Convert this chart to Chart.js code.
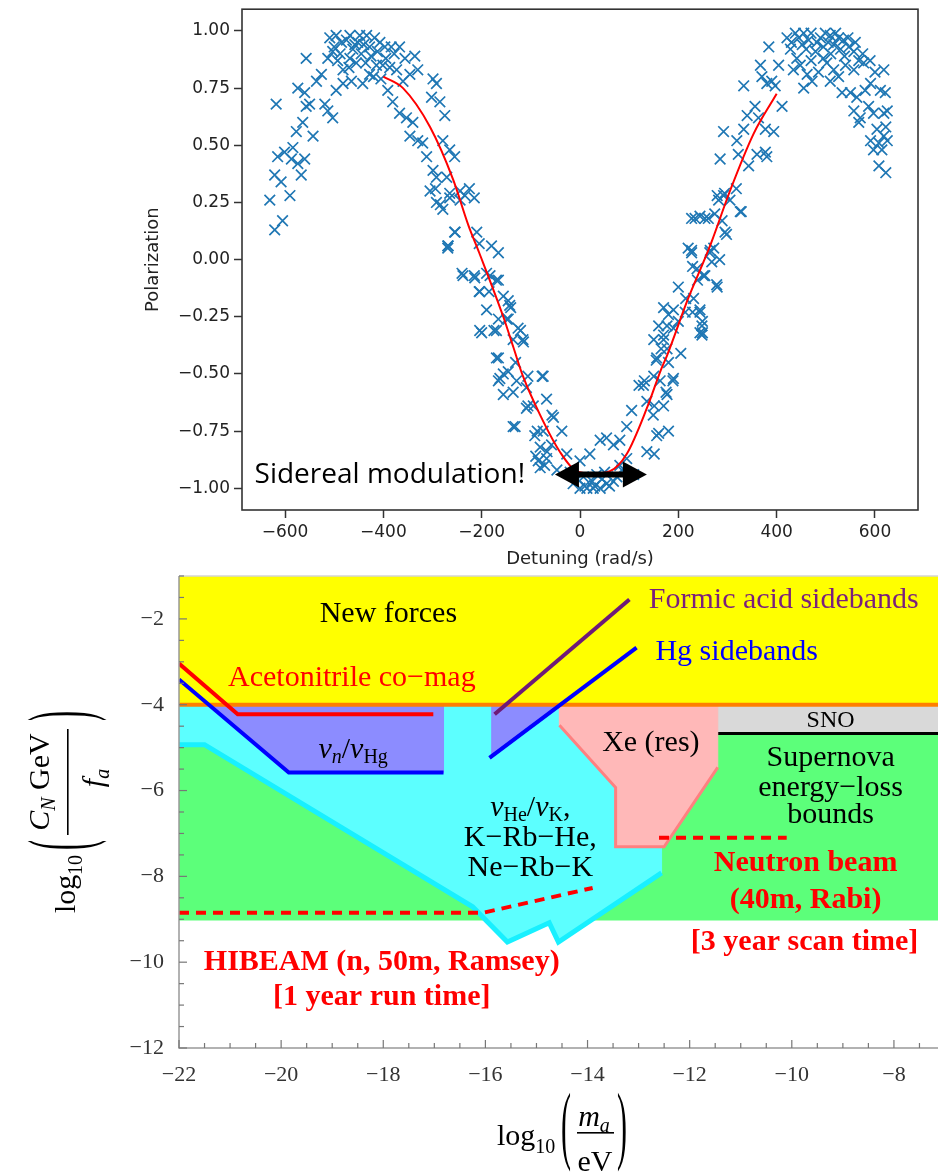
<!DOCTYPE html>
<html>
<head>
<meta charset="utf-8">
<script src="https://cdn.jsdelivr.net/npm/chart.js@4.4.1/dist/chart.umd.min.js"></script>
<style>
  html, body { margin: 0; padding: 0; background: #fff; }
  body { width: 938px; height: 1172px; overflow: hidden; position: relative; }
  #topWrap { position: absolute; left: 0; top: 0; width: 938px; height: 570px; }
  #bottomWrap { position: absolute; left: 0; top: 570px; width: 938px; height: 602px; overflow: hidden; }
</style>
</head>
<body>
<div id="topWrap"><canvas id="polChart" width="938" height="570"></canvas></div>
<div id="bottomWrap"><canvas id="axionChart" width="960" height="602"></canvas></div>
<script>
// ---- top panel : polarization vs detuning ----
var polTicks = [-1, -0.75, -0.5, -0.25, 0, 0.25, 0.5, 0.75, 1];
var detuningTicks = [-600, -400, -200, 0, 200, 400, 600];

// measured points [detuning, polarization]
var scanPoints = [
  [-631,0.26],[-618,0.68],[-621,0.37],[-621,0.13],[-605,0.17],[-608,0.34],[-590,0.28],[-615,0.45],
  [-601,0.47],[-587,0.44],[-584,0.49],[-574,0.42],[-567,0.37],[-560,0.44],[-577,0.56],[-564,0.60],
  [-557,0.67],[-574,0.75],[-560,0.73],[-557,0.88],[-543,0.54],[-550,0.68],[-536,0.78],[-526,0.81],
  [-519,0.68],[-513,0.65],[-503,0.62],[-513,0.88],[-503,0.91],[-509,0.97],[-496,0.98],[-485,0.95],
  [-493,0.87],[-482,0.83],[-496,0.74],[-482,0.77],[-465,0.78],[-468,0.88],[-458,0.94],[-468,0.98],
  [-448,0.98],[-434,0.98],[-445,0.90],[-428,0.93],[-418,0.97],[-407,0.95],[-397,0.93],[-384,0.93],
  [-442,0.77],[-428,0.81],[-414,0.85],[-401,0.85],[-387,0.84],[-373,0.83],[-367,0.93],[-356,0.88],
  [-336,0.89],[-360,0.78],[-346,0.81],[-330,0.83],[-391,0.74],[-381,0.69],[-367,0.64],[-353,0.62],
  [-340,0.60],[-346,0.54],[-330,0.52],[-320,0.51],[-312,0.45],[-299,0.39],[-292,0.36],[-305,0.30],
  [-292,0.25],[-279,0.22],[-299,0.79],[-292,0.77],[-302,0.71],[-285,0.69],[-275,0.63],[-279,0.52],
  [-265,0.48],[-255,0.45],[-271,0.36],[-265,0.29],[-244,0.30],[-234,0.28],[-269,0.05],[-255,0.12],
  [-294,0.31],[-284,0.24],[-265,0.27],[-244,0.26],[-225,0.31],[-215,0.27],[-254,0.12],[-269,0.06],
  [-210,0.12],[-205,0.07],[-180,0.06],[-166,0.03],[-240,-0.06],[-215,-0.07],[-190,-0.06],[-170,-0.09],
  [-205,-0.14],[-185,-0.14],[-190,-0.22],[-146,-0.18],[-141,-0.21],[-166,-0.26],[-200,-0.32],[-175,-0.31],
  [-146,-0.26],[-121,-0.31],[-116,-0.35],[-136,-0.35],[-166,-0.43],[-156,-0.50],[-131,-0.45],[-106,-0.51],
  [-77,-0.51],[-268,0.06],[-238,-0.07],[-214,-0.08],[-183,-0.07],[-166,-0.09],[-204,-0.14],[-156,-0.16],
  [-143,-0.20],[-149,-0.26],[-204,-0.31],[-170,-0.31],[-126,-0.30],[-115,-0.36],[-170,-0.43],[-163,-0.52],
  [-146,-0.49],[-129,-0.53],[-156,-0.59],[-109,-0.56],[-75,-0.51],[-95,-0.64],[-68,-0.61],[-132,-0.73],
  [-109,-0.65],[-92,-0.77],[-75,-0.75],[-54,-0.69],[-81,-0.82],[-58,-0.81],[-37,-0.75],[-68,-0.87],
  [-27,-0.85],[-81,-0.91],[-47,-0.92],[-14,-0.98],[0,-1.00],[14,-1.00],[27,-1.00],[41,-1.00],
  [54,-0.98],[68,-0.97],[7,-0.95],[34,-0.94],[0,-0.88],[20,-0.85],[41,-0.79],[54,-0.78],
  [68,-0.81],[81,-0.79],[95,-0.87],[81,-0.90],[109,-0.94],[105,-0.66],[129,-0.55],[95,-0.73],
  [136,-0.62],[136,-0.84],[156,-0.77],[149,-0.68],[163,-0.53],[177,-0.59],[170,-0.64],[190,-0.52],
  [156,-0.43],[177,-0.39],[170,-0.35],[190,-0.30],[177,-0.29],[200,-0.27],[190,-0.22],[214,-0.23],
  [231,-0.17],[244,-0.23],[248,-0.29],[244,-0.32],[248,-0.33],[227,0.03],[238,-0.04],[251,-0.07],
  [272,0.05],[278,-0.11],[268,-0.01],[-20,-0.93],[10,-0.99],[25,-0.97],[45,-0.96],[60,-0.99],
  [75,-0.95],[-5,-0.96],[30,-0.99],[50,-0.93],[85,-0.92],[-90,-0.86],[-85,-0.88],[-72,-0.90],
  [-166,-0.53],[-136,-0.58],[-136,-0.73],[-106,-0.64],[-87,-0.75],[-67,-0.84],[-57,-0.68],[120,-0.55],
  [151,-0.64],[180,-0.75],[175,-0.58],[189,-0.53],[151,-0.85],[160,-0.76],
  [220,0.05],[229,-0.03],[239,-0.09],[254,-0.07],[234,0.18],[254,0.18],[274,0.20],[279,0.28],
  [294,0.29],[318,0.31],[298,0.11],[289,0.17],[328,0.21],[279,-0.12],[264,0.03],[284,0.00],
  [200,-0.12],[215,-0.17],[229,-0.23],[244,-0.22],[249,-0.27],[249,-0.32],[170,-0.21],[180,-0.24],
  [160,-0.29],[150,-0.35],[170,-0.33],[165,-0.39],[155,-0.44],[180,-0.45],[205,-0.41],[131,-0.53],
  [150,-0.51],[227,0.18],[244,0.19],[261,0.18],[227,0.04],[265,0.04],[285,0.44],[282,0.26],
  [292,0.28],[305,0.26],[326,0.21],[295,0.12],[292,0.56],[319,0.52],[333,0.57],[322,0.46],
  [343,0.41],[333,0.76],[340,0.63],[356,0.67],[363,0.62],[370,0.80],[380,0.77],[390,0.78],
  [397,0.76],[367,0.85],[384,0.93],[404,0.85],[411,0.67],[377,0.57],[394,0.56],[377,0.47],
  [380,0.45],[360,0.46],[421,0.97],[428,0.92],[438,0.99],[441,0.88],[452,0.94],[455,0.99],
  [465,0.96],[479,0.91],[489,0.97],[499,0.99],[509,0.98],[516,0.94],[526,0.97],[536,0.96],
  [547,0.93],[557,0.91],[434,0.83],[448,0.85],[462,0.81],[455,0.75],[472,0.78],[485,0.82],
  [502,0.86],[516,0.83],[526,0.80],[509,0.78],[540,0.85],[557,0.83],[567,0.87],[577,0.86],
  [533,0.73],[550,0.73],[563,0.71],[580,0.74],[591,0.77],[618,0.83],[611,0.74],[621,0.73],
  [557,0.65],[570,0.62],[587,0.67],[597,0.64],[618,0.64],[625,0.65],[567,0.60],[604,0.57],
  [622,0.58],[591,0.52],[608,0.51],[618,0.54],[597,0.48],[614,0.48],[608,0.41],[622,0.38],[625,0.52],
  [-500,0.93],[-488,0.90],[-475,0.96],[-462,0.92],[-452,0.95],[-440,0.94],[-425,0.89],[-412,0.91],
  [-395,0.88],[-378,0.90],[-470,0.84],[-455,0.86],[-436,0.86],[-420,0.80],[-405,0.79],
  [430,0.95],[445,0.97],[460,0.92],[470,0.99],[482,0.95],[495,0.93],[505,0.95],[520,0.99],
  [530,0.92],[545,0.97],[560,0.95],[575,0.90],[590,0.87],[600,0.82],[470,0.87],[495,0.88],
  [510,0.90],[538,0.89]
];

// fitted curve
var fitCurve = [
  [-400,0.80],[-360,0.75],[-305,0.58],[-258,0.35],[-227,0.15],[-205,0.03],[-156,-0.25],[-136,-0.38],
  [-116,-0.51],[-81,-0.68],[-41,-0.84],[-7,-0.925],[27,-0.935],[61,-0.925],[95,-0.85],[136,-0.65],
  [165,-0.48],[177,-0.42],[220,-0.17],[255,0.01],[268,0.08],[305,0.30],[353,0.55],[400,0.725]
];

var modulationArrow = [[-51, -0.94], [136, -0.94]];
var modulationNote = { text: 'Sidereal modulation!', x: -662, y: -0.976 };

function signed(v, digits) {
  var s = Math.abs(v).toFixed(digits);
  return v < 0 ? '\u2212' + s : s;
}
function toXY(list) {
  return list.map(function (p) { return { x: p[0], y: p[1] }; });
}
// keep the plot box where the figure has it: no extra room for end labels
function noEndPadding(s) {
  s.paddingTop = 0; s.paddingBottom = 0; s.paddingLeft = 0; s.paddingRight = 0;
}

var polFrame = {
  id: 'polFrame',
  afterDatasetsDraw: function (chart) {
    var ctx = chart.ctx, a = chart.chartArea;
    var xs = chart.scales.x, ys = chart.scales.y;
    ctx.save();
    ctx.strokeStyle = '#333';
    ctx.lineWidth = 1.6;
    ctx.strokeRect(a.left, a.top, a.right - a.left, a.bottom - a.top);

    // double arrow
    var x0 = xs.getPixelForValue(modulationArrow[0][0]);
    var x1 = xs.getPixelForValue(modulationArrow[1][0]);
    var yy = ys.getPixelForValue(modulationArrow[0][1]);
    ctx.strokeStyle = '#000';
    ctx.fillStyle = '#000';
    ctx.lineWidth = 6;
    ctx.beginPath();
    ctx.moveTo(x0 + 20, yy);
    ctx.lineTo(x1 - 20, yy);
    ctx.stroke();
    ctx.beginPath();
    ctx.moveTo(x0, yy); ctx.lineTo(x0 + 24, yy - 13); ctx.lineTo(x0 + 24, yy + 13); ctx.closePath();
    ctx.fill();
    ctx.beginPath();
    ctx.moveTo(x1, yy); ctx.lineTo(x1 - 24, yy - 13); ctx.lineTo(x1 - 24, yy + 13); ctx.closePath();
    ctx.fill();

    ctx.font = '28px "Open Sans"';
    ctx.textBaseline = 'alphabetic';
    ctx.textAlign = 'left';
    ctx.fillText(modulationNote.text, xs.getPixelForValue(modulationNote.x), ys.getPixelForValue(modulationNote.y), 285);
    ctx.restore();
  }
};

new Chart(document.getElementById('polChart').getContext('2d'), {
  type: 'scatter',
  data: {
    datasets: [
      {
        data: toXY(fitCurve),
        showLine: true,
        borderColor: '#ff0000',
        borderWidth: 2,
        pointRadius: 0,
        cubicInterpolationMode: 'monotone',
        order: 0
      },
      {
        data: toXY(scanPoints),
        pointStyle: 'crossRot',
        pointRadius: 7.5,
        borderColor: '#1f77b4',
        backgroundColor: '#1f77b4',
        borderWidth: 1.7,
        order: 1
      }
    ]
  },
  options: {
    responsive: false,
    animation: false,
    events: [],
    layout: { padding: { left: 0, right: 20, top: 5, bottom: 0 } },
    plugins: { legend: { display: false }, tooltip: { enabled: false } },
    scales: {
      x: {
        type: 'linear', min: -687.5, max: 687.5,
        afterBuildTicks: function (s) { s.ticks = detuningTicks.map(function (v) { return { value: v }; }); },
        afterFit: function (s) { s.height = 60; noEndPadding(s); },
        grid: { display: true, drawOnChartArea: false, drawTicks: true, tickLength: 8, tickColor: '#333', tickWidth: 1.5 },
        border: { display: false },
        ticks: { font: { family: 'DejaVu Sans', size: 17 }, color: '#222', padding: 4, maxRotation: 0, autoSkip: false,
                 callback: function (v) { return signed(v, 0); } },
        title: { display: true, text: 'Detuning (rad/s)', font: { family: 'DejaVu Sans', size: 18 }, color: '#222',
                 padding: { top: 0, bottom: 0 } }
      },
      y: {
        type: 'linear', min: -1.095, max: 1.095,
        afterBuildTicks: function (s) { s.ticks = polTicks.map(function (v) { return { value: v }; }); },
        afterFit: function (s) { s.width = 242; noEndPadding(s); },
        grid: { display: true, drawOnChartArea: false, drawTicks: true, tickLength: 8, tickColor: '#333', tickWidth: 1.5 },
        border: { display: false },
        ticks: { font: { family: 'DejaVu Sans', size: 17 }, color: '#222', padding: 4, autoSkip: false,
                 callback: function (v) { return signed(v, 2); } },
        title: { display: true, text: 'Polarization', font: { family: 'DejaVu Sans', size: 18 }, color: '#222',
                 padding: { top: 143, bottom: 0 } }
      }
    }
  },
  plugins: [polFrame]
});

// ---- bottom panel : axion coupling reach ----
var massTicks = [-22, -20, -18, -16, -14, -12, -10, -8];
var couplingTicks = [-12, -10, -8, -6, -4, -2];

// regions [log10 m_a, log10 coupling]
var newForcesBand = [[-22,-4],[-22,-1],[-7,-1],[-7,-4]];
var supernovaBand = [[-22,-9.03],[-22,-4],[-7,-4],[-7,-9.03]];
var snoBand = [[-11.45,-4.67],[-11.45,-4],[-7,-4],[-7,-4.67]];
var comagRegion = [[-22,-4],[-22,-4.93],[-21.5,-4.93],[-16.25,-8.71],[-15.57,-9.53],[-14.75,-9.08],
                   [-14.57,-9.53],[-12.55,-7.92],[-12.55,-4]];
var comagEdge = [[-22,-4.93],[-21.5,-4.93],[-16.25,-8.71],[-15.57,-9.53],[-14.75,-9.08],[-14.57,-9.53],[-12.55,-7.92]];
var nnHgRegion = [[-21.42,-4],[-19.85,-5.58],[-16.82,-5.58],[-16.82,-4]];
var hgSideRegion = [[-15.87,-4],[-15.87,-5.2],[-14.53,-4]];
var xeRegion = [[-14.55,-4],[-14.55,-4.48],[-13.45,-5.93],[-13.45,-7.31],[-12.5,-7.31],[-11.45,-5.46],[-11.45,-4]];
var xeEdge = [[-14.55,-4.48],[-13.45,-5.93],[-13.45,-7.31],[-12.5,-7.31],[-11.45,-5.46]];
var newForcesEdge = [[-22,-4],[-7,-4]];
var snoEdge = [[-11.45,-4.67],[-7,-4.67]];
var acetonitrileLine = [[-22,-3.04],[-20.85,-4.22],[-17.02,-4.22]];
var nnHgLine = [[-22,-3.41],[-19.85,-5.58],[-16.82,-5.58]];
var formicLine = [[-15.82,-4.22],[-13.18,-1.55]];
var hgSideLine = [[-15.92,-5.24],[-13.04,-2.67]];
var hibeamReach = [[-22,-8.85],[-16.05,-8.85],[-13.9,-8.27]];
var neutronBeamReach = [[-12.6,-7.1],[-10.1,-7.1]];

var plotNotes = [
  { x: -17.9, y: -1.89, color: '#000', parts: [{ t: 'New forces' }] },
  { x: -12.8, y: -1.56, color: '#7a1f7d', align: 'left', parts: [{ t: 'Formic acid sidebands' }] },
  { x: -12.67, y: -2.77, color: '#0000ff', align: 'left', parts: [{ t: 'Hg sidebands' }] },
  { x: -21.04, y: -3.38, color: '#ff0000', align: 'left', parts: [{ t: 'Acetonitrile co\u2212mag' }] },
  { x: -18.59, y: -5.06, color: '#000', parts: [{ t: '\u03bd', i: 1 }, { t: 'n', i: 1, sub: 1 }, { t: '/' }, { t: '\u03bd', i: 1 }, { t: 'Hg', sub: 1 }] },
  { x: -9.24, y: -4.38, color: '#000', parts: [{ t: 'SNO', s: 24 }] },
  { x: -12.76, y: -4.89, color: '#000', parts: [{ t: 'Xe (res)' }] },
  { x: -9.24, y: -5.24, color: '#000', parts: [{ t: 'Supernova' }] },
  { x: -9.24, y: -5.94, color: '#000', parts: [{ t: 'energy\u2212loss' }] },
  { x: -9.24, y: -6.57, color: '#000', parts: [{ t: 'bounds' }] },
  { x: -15.12, y: -6.41, color: '#000', parts: [{ t: '\u03bd', i: 1 }, { t: 'He', sub: 1 }, { t: '/' }, { t: '\u03bd', i: 1 }, { t: 'K', sub: 1 }, { t: ',' }] },
  { x: -15.12, y: -7.11, color: '#000', parts: [{ t: 'K\u2212Rb\u2212He,' }] },
  { x: -15.12, y: -7.80, color: '#000', parts: [{ t: 'Ne\u2212Rb\u2212K' }] },
  { x: -9.73, y: -7.69, color: '#ff0000', parts: [{ t: 'Neutron beam', b: 1 }] },
  { x: -9.73, y: -8.55, color: '#ff0000', parts: [{ t: '(40m, Rabi)', b: 1 }] },
  { x: -9.75, y: -9.53, color: '#ff0000', parts: [{ t: '[3 year scan time]', b: 1 }] },
  { x: -18.03, y: -10.0, color: '#ff0000', parts: [{ t: 'HIBEAM (n, 50m, Ramsey)', b: 1 }] },
  { x: -18.03, y: -10.81, color: '#ff0000', parts: [{ t: '[1 year run time]', b: 1 }] }
];

function partFont(p) {
  var size = p.s || (p.sub ? 20 : 30);
  return (p.i ? 'italic ' : '') + (p.b ? 'bold ' : '') + size + 'px "Liberation Serif"';
}
function drawParts(ctx, parts, x, y, align) {
  var total = 0;
  parts.forEach(function (p) { ctx.font = partFont(p); total += ctx.measureText(p.t).width; });
  var cx = align === 'left' ? x : x - total / 2;
  parts.forEach(function (p) {
    ctx.font = partFont(p);
    ctx.fillText(p.t, cx, y + (p.sub ? 8 : 0) + (p.dy || 0));
    cx += ctx.measureText(p.t).width;
  });
}
function bigParen(ctx, ch, x, y) {
  ctx.save();
  ctx.translate(x, y);
  ctx.scale(1, 2.9);
  ctx.font = '30px "Liberation Serif"';
  ctx.textAlign = 'center';
  ctx.textBaseline = 'middle';
  ctx.fillText(ch, 0, -1);
  ctx.restore();
}

function region(list, color, order) {
  return { data: toXY(list), showLine: true, fill: 'shape', backgroundColor: color, borderColor: color,
           borderWidth: 1, pointRadius: 0, order: order };
}
function stroke(list, color, width, order, dash) {
  return { data: toXY(list), showLine: true, fill: false, borderColor: color, borderWidth: width,
           borderDash: dash || [], pointRadius: 0, order: order };
}

var axionFrame = {
  id: 'axionFrame',
  afterDatasetsDraw: function (chart) {
    var ctx = chart.ctx, a = chart.chartArea;
    var xs = chart.scales.x, ys = chart.scales.y;
    ctx.save();
    // frame
    ctx.strokeStyle = '#d4d4d4';
    ctx.lineWidth = 1.5;
    ctx.beginPath(); ctx.moveTo(a.left, a.top); ctx.lineTo(a.right, a.top); ctx.stroke();
    ctx.strokeStyle = '#999';
    ctx.beginPath(); ctx.moveTo(a.left, a.top); ctx.lineTo(a.left, a.bottom); ctx.lineTo(a.right, a.bottom); ctx.stroke();
    // inward ticks
    ctx.strokeStyle = '#777';
    ctx.lineWidth = 1.2;
    var v, p, len;
    for (v = -22; v <= -7; v += 0.5) {
      p = xs.getPixelForValue(v);
      len = massTicks.indexOf(v) >= 0 ? 8 : 5;
      ctx.beginPath(); ctx.moveTo(p, a.bottom); ctx.lineTo(p, a.bottom - len); ctx.stroke();
    }
    for (v = -12; v <= -1; v += 0.5) {
      p = ys.getPixelForValue(v);
      len = couplingTicks.indexOf(v) >= 0 ? 8 : 5;
      ctx.beginPath(); ctx.moveTo(a.left, p); ctx.lineTo(a.left + len, p); ctx.stroke();
    }
    // annotations
    ctx.textBaseline = 'middle';
    ctx.textAlign = 'left';
    plotNotes.forEach(function (n) {
      ctx.fillStyle = n.color;
      drawParts(ctx, n.parts, xs.getPixelForValue(n.x), ys.getPixelForValue(n.y), n.align);
    });

    // axis titles
    ctx.fillStyle = '#000';
    ctx.textBaseline = 'alphabetic';
    // x title: log10( m_a / eV )
    drawParts(ctx, [{ t: 'log' }], 497, 575, 'left');
    ctx.font = '30px "Liberation Serif"';
    var logW = ctx.measureText('log').width;
    ctx.font = '20px "Liberation Serif"';
    ctx.fillText('10', 497 + logW, 583);
    bigParen(ctx, '(', 566, 563);
    drawParts(ctx, [{ t: 'm', i: 1 }, { t: 'a', i: 1, sub: 1, dy: -2 }], 594, 556, 'center');
    ctx.fillRect(577, 562, 37, 1.6);
    drawParts(ctx, [{ t: 'eV' }], 595, 601, 'center');
    bigParen(ctx, ')', 622, 563);

    // y title (rotated): log10( C_N GeV / f_a )
    ctx.save();
    ctx.translate(75, 343);
    ctx.rotate(-Math.PI / 2);
    drawParts(ctx, [{ t: 'log' }], 0, 0, 'left');
    ctx.font = '20px "Liberation Serif"';
    ctx.fillText('10', 38, 7);
    bigParen(ctx, '(', 68, -7);
    drawParts(ctx, [{ t: 'C', i: 1 }, { t: 'N', i: 1, sub: 1, dy: -2 }, { t: ' GeV' }], 131, -26, 'center');
    ctx.fillRect(78, -8, 106, 1.6);
    drawParts(ctx, [{ t: 'f', i: 1 }, { t: 'a', i: 1, sub: 1, dy: -2 }], 135, 28, 'center');
    bigParen(ctx, ')', 197, -7);
    ctx.restore();

    ctx.restore();
  }
};

new Chart(document.getElementById('axionChart').getContext('2d'), {
  type: 'scatter',
  data: {
    datasets: [
      stroke(hibeamReach, '#ff0000', 4, 1, [10, 7]),
      stroke(neutronBeamReach, '#ff0000', 4, 1, [10, 7]),
      stroke(hgSideLine, '#0000ff', 4, 2),
      stroke(formicLine, '#6e1a78', 4, 2),
      stroke(nnHgLine, '#0000ff', 4, 2),
      stroke(acetonitrileLine, '#ff0000', 4, 2),
      stroke(newForcesEdge, '#ff7f00', 4, 3),
      region(newForcesBand, '#ffff00', 4),
      stroke(xeEdge, '#ff8080', 3, 5),
      region(xeRegion, '#ffb8b8', 6),
      region(hgSideRegion, '#8c8cff', 7),
      region(nnHgRegion, '#8c8cff', 7),
      stroke(comagEdge, '#18f0ff', 5, 8),
      region(comagRegion, '#5cffff', 9),
      stroke(snoEdge, '#000000', 3, 10),
      region(snoBand, '#d9d9d9', 11),
      region(supernovaBand, '#5cff7a', 12)
    ]
  },
  options: {
    responsive: false,
    animation: false,
    events: [],
    layout: { padding: { left: 0, right: 15, top: 6, bottom: 0 } },
    plugins: { legend: { display: false }, tooltip: { enabled: false } },
    scales: {
      x: {
        type: 'linear', min: -22, max: -7,
        afterBuildTicks: function (s) { s.ticks = massTicks.map(function (v) { return { value: v }; }); },
        afterFit: function (s) { s.height = 124; noEndPadding(s); },
        grid: { display: false },
        border: { display: false },
        ticks: { font: { family: 'Liberation Serif', size: 22 }, color: '#333', padding: 6, maxRotation: 0, autoSkip: false,
                 callback: function (v) { return signed(v, 0); } }
      },
      y: {
        type: 'linear', min: -12, max: -1,
        afterBuildTicks: function (s) { s.ticks = couplingTicks.map(function (v) { return { value: v }; }); },
        afterFit: function (s) { s.width = 179; noEndPadding(s); },
        grid: { display: false },
        border: { display: false },
        ticks: { font: { family: 'Liberation Serif', size: 22 }, color: '#333', padding: 7, autoSkip: false,
                 callback: function (v) { return signed(v, 0); } }
      }
    }
  },
  plugins: [axionFrame]
});
</script>
</body>
</html>
